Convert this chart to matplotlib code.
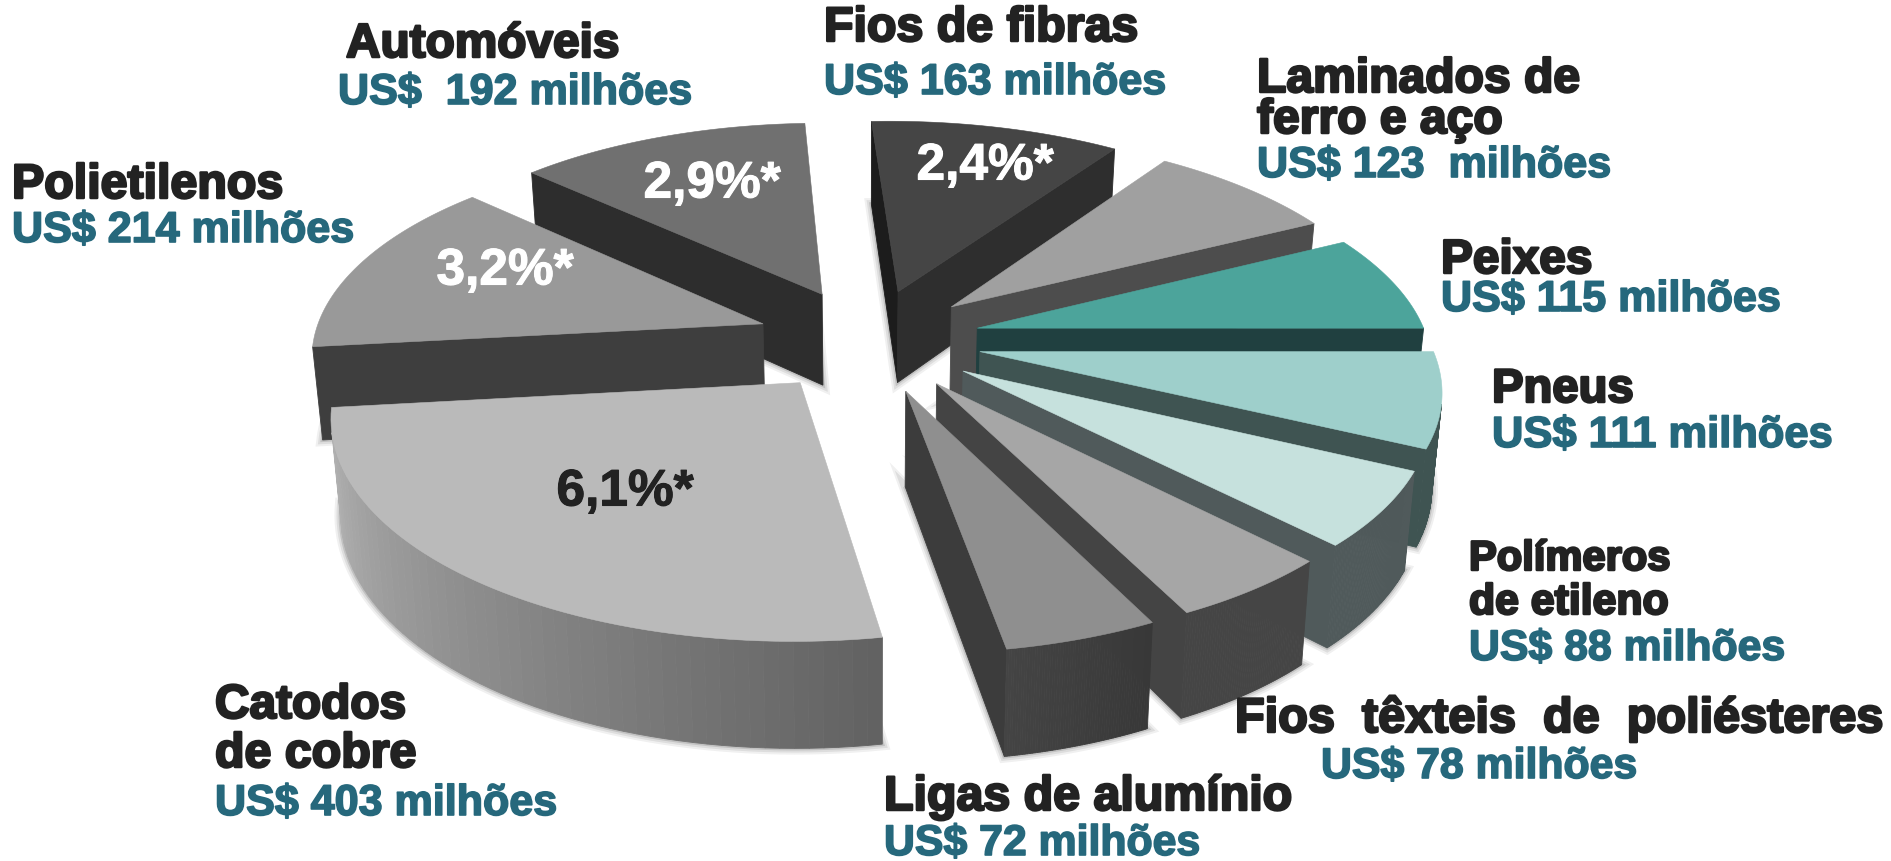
import numpy as np
import matplotlib
matplotlib.use('Agg')
import matplotlib.pyplot as plt
import matplotlib.patheffects as pe
from matplotlib.colors import to_rgb

products = ['Fios de fibras', 'Laminados de ferro e aço', 'Peixes', 'Pneus', 'Polímeros de etileno',
            'Fios têxteis de poliésteres', 'Ligas de alumínio', 'Catodos de cobre', 'Polietilenos', 'Automóveis']
values = [163, 123, 115, 111, 88, 78, 72, 403, 214, 192]

# colours per slice: top face, start face, end face, arc at start, arc at end
top_colors = ['#454545', '#a0a0a0', '#4ca49b', '#9ecfcb', '#c6e1dd', '#a6a6a6', '#8f8f8f', '#bababa', '#999999', '#707070']
start_colors = ['#1c1c1c', '#4d4d4d', '#204040', '#3f5452', '#505a5b', '#444444', '#3a3a3a', '#636363', '#3e3e3e', '#2d2d2d']
end_colors = ['#2e2e2e', '#4d4d4d', '#204040', '#3f5452', '#505a5b', '#444444', '#3c3c3c', '#b0b0b0', '#3e3e3e', '#2d2d2d']
arc_start = ['#2e2e2e', '#4d4d4d', '#204040', '#3f5452', '#505a5b', '#454545', '#383838', '#626262', '#3e3e3e', '#2d2d2d']
arc_end = ['#2e2e2e', '#4d4d4d', '#204040', '#3f5452', '#505a5b', '#454545', '#444444', '#b6b6b6', '#3e3e3e', '#2d2d2d']
draw_order = [9, 8, 7, 0, 1, 2, 3, 4, 5, 6]

# pie geometry, in pixels of the figure
CX, CY = 869, 340
SCALE = 450
SQUASH = 0.462
PERSP = 0.144
DEPTH = 93
BOTTOM_SHRINK = 0.982
EXPLODE = 0.25
START_ANGLE = -2.6
SKEW = -5.5

BLACK = '#222222'
TEAL = '#26687c'

# text, x, baseline y, colour, size
labels = [
    ('Automóveis', 346, 57, BLACK, 34.4),
    ('US$  192 milhões', 338, 104, TEAL, 31),
    ('Fios de fibras', 824, 41, BLACK, 34.8),
    ('US$ 163 milhões', 824, 94, TEAL, 31),
    ('Laminados de', 1257, 92, BLACK, 34.6),
    ('ferro e aço', 1257, 133, BLACK, 34.6),
    ('US$ 123  milhões', 1257, 177, TEAL, 31),
    ('Peixes', 1441, 273, BLACK, 34.4),
    ('US$ 115 milhões', 1441, 311, TEAL, 31),
    ('Pneus', 1492, 402, BLACK, 34),
    ('US$ 111 milhões', 1492, 447, TEAL, 31.3),
    ('Polímeros', 1469, 570, BLACK, 30),
    ('de etileno', 1469, 614, BLACK, 30.8),
    ('US$ 88 milhões', 1469, 660, TEAL, 30.8),
    ('Fios  têxteis  de  poliésteres', 1235, 732, BLACK, 35),
    ('US$ 78 milhões', 1321, 778, TEAL, 30.8),
    ('Ligas de alumínio', 884, 810, BLACK, 34.8),
    ('US$ 72 milhões', 884, 855, TEAL, 30.8),
    ('Catodos', 215, 718, BLACK, 34.4),
    ('de cobre', 215, 767, BLACK, 34.8),
    ('US$ 403 milhões', 215, 815, TEAL, 31),
    ('Polietilenos', 12, 198, BLACK, 34.8),
    ('US$ 214 milhões', 12, 242, TEAL, 31),
]

# percent text, centre x, centre y, colour
percents = [
    ('2,9%*', 712, 184, 'white'),
    ('3,2%*', 505, 271, 'white'),
    ('2,4%*', 985, 166, 'white'),
    ('6,1%*', 625, 492, BLACK),
]


def top_point(u, v):
    d = 1 + PERSP * v
    return CX + SCALE * u / d + SKEW * v, CY - SCALE * SQUASH * v / d


def bottom_point(u, v):
    d = 1 + PERSP * v
    return (CX + BOTTOM_SHRINK * SCALE * u / d + SKEW * v,
            CY - BOTTOM_SHRINK * SCALE * SQUASH * v / d + DEPTH / d)


def is_visible(quad):
    x = np.array([p[0] for p in quad])
    y = np.array([p[1] for p in quad])
    return np.sum(x * np.roll(y, -1) - np.roll(x, -1) * y) < 0


def mix(c1, c2, t):
    a, b = np.array(to_rgb(c1)), np.array(to_rgb(c2))
    return tuple(a + (b - a) * t)


def draw_face(ax, quad, color):
    if is_visible(quad):
        ax.fill([p[0] for p in quad], [p[1] for p in quad], color=color, lw=0.6)


def draw_slice(ax, i, a1, a2):
    mid = np.radians((a1 + a2) / 2)
    au, av = EXPLODE * np.sin(mid), EXPLODE * np.cos(mid)
    phi = np.radians(np.linspace(a1, a2, 60))
    u = au + np.sin(phi)
    v = av + np.cos(phi)

    # soft shadow under the lower edge
    xs, ys = [], []
    for p in [(au, av)] + list(zip(u, v)):
        bx, by = bottom_point(*p)
        xs.append(bx)
        ys.append(by)
    for lw, alpha in [(9, 0.06), (6, 0.08), (3, 0.12)]:
        ax.fill(xs, ys, facecolor='none', edgecolor='black', lw=lw, alpha=alpha)

    apex_t, apex_b = top_point(au, av), bottom_point(au, av)
    p1_t, p1_b = top_point(u[0], v[0]), bottom_point(u[0], v[0])
    p2_t, p2_b = top_point(u[-1], v[-1]), bottom_point(u[-1], v[-1])
    draw_face(ax, [apex_t, p1_t, p1_b, apex_b], start_colors[i])
    draw_face(ax, [p2_t, apex_t, apex_b, p2_b], end_colors[i])

    for j in range(len(u) - 1):
        quad = [top_point(u[j], v[j]), top_point(u[j + 1], v[j + 1]),
                bottom_point(u[j + 1], v[j + 1]), bottom_point(u[j], v[j])]
        draw_face(ax, quad, mix(arc_start[i], arc_end[i], j / (len(u) - 2)))

    tx, ty = top_point(np.r_[au, u], np.r_[av, v])
    ax.fill(tx, ty, color=top_colors[i], lw=0.4)


fig = plt.figure(figsize=(18.91, 8.61), dpi=100)
ax = fig.add_axes([0, 0, 1, 1])
ax.set_xlim(0, 1891)
ax.set_ylim(861, 0)
ax.axis('off')

shares = np.array(values) / np.sum(values) * 360
edges = START_ANGLE + np.r_[0, np.cumsum(shares)]
for i in draw_order:
    draw_slice(ax, i, edges[i], edges[i + 1])

for text, x, y, color, size in labels:
    ax.text(x, y, text, color=color, fontsize=size, fontfamily='Liberation Sans', fontweight='bold',
            ha='left', va='baseline', zorder=10,
            path_effects=[pe.withStroke(linewidth=1.8 if color == BLACK else 1.2, foreground=color)])

for text, x, y, color in percents:
    ax.text(x, y, text, color=color, fontsize=37, fontfamily='Liberation Sans', fontweight='bold',
            ha='center', va='center', zorder=10,
            path_effects=[pe.withStroke(linewidth=0.8, foreground=color)])

fig.savefig('out.png', dpi=100, facecolor='white')
